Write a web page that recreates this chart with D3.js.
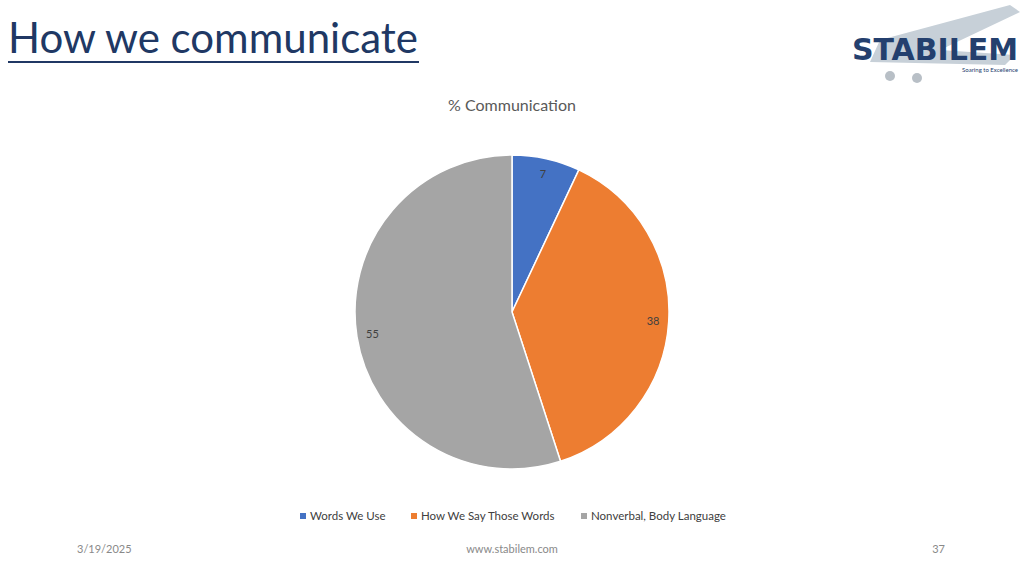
<!DOCTYPE html>
<html><head><meta charset="utf-8">
<script src="https://cdn.jsdelivr.net/npm/d3@7"></script>
<style>body{margin:0;background:#fff;font-family:Lato,"Open Sans",sans-serif;}</style>
</head><body><div id="chart"></div>
<script>
var categories = ["Words We Use", "How We Say Those Words", "Nonverbal, Body Language"];
var values = [7, 38, 55];
var colors = ["#4472C4", "#ED7D31", "#A5A5A5"];

var svg = d3.select("#chart").append("svg").attr("width", 1024).attr("height", 576);

// slide title
svg.append("text").attr("x", 8).attr("y", 53).attr("font-size", 42)
    .attr("fill", "#203864").attr("font-family", "Lato")
    .attr("textLength", 410).attr("lengthAdjust", "spacingAndGlyphs")
    .text("How we communicate");
svg.append("line").attr("x1", 8).attr("x2", 419).attr("y1", 62).attr("y2", 62)
    .attr("stroke", "#203864").attr("stroke-width", 2);

// logo (approximate)
var logo = svg.append("g");
logo.append("path").attr("d", "M880,40 L1010,5 L1020,12 L940,50 L1015,55 L1005,65 L870,62 Z").attr("fill", "#c7d0d8");
logo.append("circle").attr("cx", 890).attr("cy", 76).attr("r", 5).attr("fill", "#b8bfc6");
logo.append("circle").attr("cx", 917).attr("cy", 78).attr("r", 5).attr("fill", "#b8bfc6");
logo.append("text").attr("x", 852).attr("y", 60).attr("font-size", 30).attr("font-weight", 900)
    .attr("font-family", "DejaVu Sans").attr("fill", "#24406e").attr("textLength", 166).text("STABILEM");
logo.append("text").attr("x", 1018).attr("y", 72).attr("text-anchor", "end").attr("font-size", 6)
    .attr("fill", "#24406e").text("Soaring to Excellence");

// chart title
svg.append("text").attr("x", 512).attr("y", 111).attr("text-anchor", "middle")
    .attr("font-size", 16).attr("fill", "#595959").text("% Communication");

var cx = 512, cy = 312, r = 157;
var pie = d3.pie().sort(null).value(d => d)(values);
var arc = d3.arc().innerRadius(0).outerRadius(r);
var g = svg.append("g").attr("transform", `translate(${cx},${cy})`);
g.selectAll("path").data(pie).enter().append("path")
    .attr("d", arc).attr("fill", (d, i) => colors[i])
    .attr("stroke", "#fff").attr("stroke-width", 1.5);

var labelArc = d3.arc().innerRadius(r * 0.9).outerRadius(r * 0.9);
g.selectAll("text").data(pie).enter().append("text")
    .attr("transform", d => {
        var c = labelArc.centroid(d);
        return `translate(${c[0]},${c[1] + 4})`;
    })
    .attr("text-anchor", "middle").attr("font-size", 11).attr("fill", "#404040")
    .text(d => d.data);

// legend
var legX = [300, 411, 581];
var leg = svg.append("g");
categories.forEach(function(c, i) {
    leg.append("rect").attr("x", legX[i]).attr("y", 513).attr("width", 6).attr("height", 6).attr("fill", colors[i]);
    leg.append("text").attr("x", legX[i] + 10).attr("y", 520).attr("font-size", 11.5).attr("fill", "#404040").text(c);
});

// footer
svg.append("text").attr("x", 77).attr("y", 553).attr("font-size", 11).attr("fill", "#898989").text("3/19/2025");
svg.append("text").attr("x", 512).attr("y", 553).attr("text-anchor", "middle").attr("font-size", 11).attr("fill", "#898989").text("www.stabilem.com");
svg.append("text").attr("x", 945).attr("y", 553).attr("text-anchor", "end").attr("font-size", 11).attr("fill", "#898989").text("37");
</script></body></html>
